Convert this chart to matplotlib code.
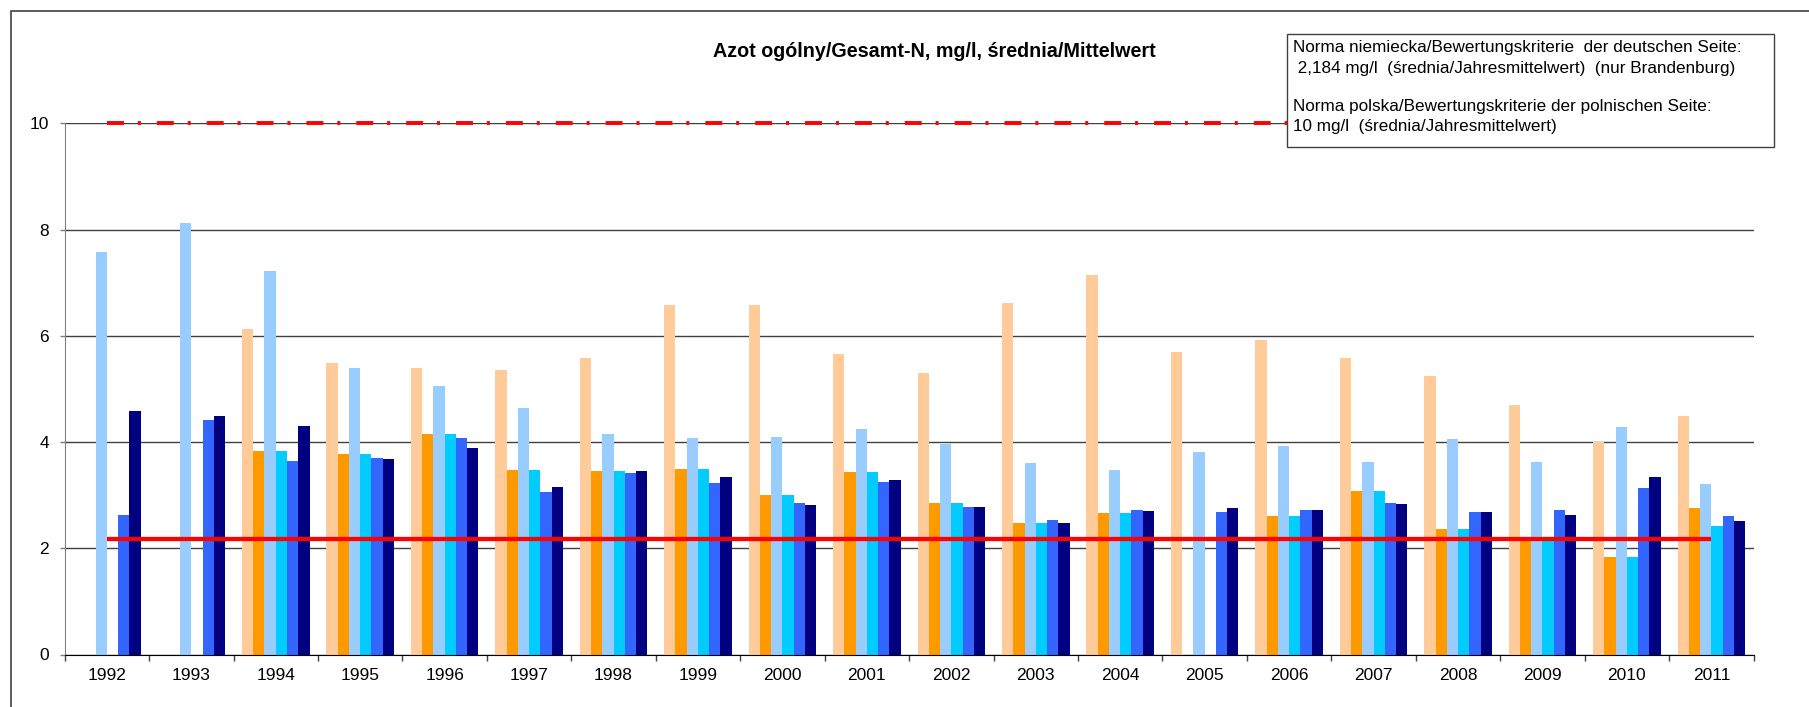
import numpy as np
import matplotlib
matplotlib.use("Agg")
import matplotlib.pyplot as plt
from matplotlib.patches import Rectangle

plt.rcParams['font.family'] = ['Liberation Sans', 'DejaVu Sans']
plt.rcParams['lines.scale_dashes'] = False

nan = np.nan

# lata / Jahre
years = [str(y) for y in range(1992, 2012)]

# serie pomiarowe (kolejnosc jak w slupkach)
s_light_orange = [nan, nan, 6.13, 5.48, 5.40, 5.36, 5.58, 6.58, 6.58, 5.66,
                  5.30, 6.62, 7.14, 5.70, 5.92, 5.58, 5.25, 4.70, 4.01, 4.50]
s_orange = [nan, nan, 3.84, 3.78, 4.15, 3.47, 3.45, 3.49, 3.00, 3.43,
            2.85, 2.47, 2.67, nan, 2.61, 3.07, 2.36, 2.20, 1.83, 2.75]
s_light_blue = [7.57, 8.13, 7.23, 5.40, 5.06, 4.65, 4.16, 4.08, 4.10, 4.24,
                3.97, 3.61, 3.47, 3.82, 3.93, 3.62, 4.05, 3.62, 4.29, 3.21]
s_cyan = [nan, nan, 3.84, 3.78, 4.15, 3.47, 3.45, 3.49, 3.00, 3.43,
          2.85, 2.47, 2.67, nan, 2.61, 3.07, 2.36, 2.20, 1.83, 2.42]
s_blue = [2.62, 4.41, 3.65, 3.70, 4.07, 3.06, 3.41, 3.23, 2.86, 3.24,
          2.77, 2.54, 2.72, 2.68, 2.72, 2.86, 2.69, 2.73, 3.13, 2.60]
s_navy = [4.59, 4.50, 4.31, 3.69, 3.88, 3.16, 3.45, 3.34, 2.81, 3.29,
          2.78, 2.47, 2.71, 2.75, 2.72, 2.84, 2.68, 2.62, 3.34, 2.51]

# normy
norm_de = 2.184
norm_pl = 10

title = "Azot ogólny/Gesamt-N, mg/l, średnia/Mittelwert"
box_lines = [
    "Norma niemiecka/Bewertungskriterie  der deutschen Seite:",
    " 2,184 mg/l  (średnia/Jahresmittelwert)  (nur Brandenburg)",
    "Norma polska/Bewertungskriterie der polnischen Seite:",
    "10 mg/l  (średnia/Jahresmittelwert)",
]

W, H = 1809, 707
fig = plt.figure(figsize=(W / 100, H / 100), dpi=100)


def fx(px):
    return px / W


def fy(py):
    return 1 - py / H


ax = fig.add_axes([fx(64.6), fy(654.5), fx(1753.6) - fx(64.6), fy(123.4) - fy(654.5)])

series = [s_light_orange, s_orange, s_light_blue, s_cyan, s_blue, s_navy]
colors = ['#FFCC99', '#FF9900', '#99CCFF', '#00CCFF', '#3366FF', '#000080']

x = np.arange(len(years))
w = 0.8 / len(series)
for j, (vals, c) in enumerate(zip(series, colors)):
    ax.bar(x + (j - 2.5) * w, vals, width=w, color=c, zorder=2)

# linie norm
ax.plot(x, [norm_de] * len(x), color='#FF0000', lw=3.1, zorder=3,
        solid_capstyle='butt')
ax.plot(x, [norm_pl] * len(x), color='#FF0000', lw=2.8, zorder=3,
        dashes=(12.2, 10, 2.2, 11.5), dash_capstyle='butt', clip_on=False)

ax.set_xlim(-0.5, len(years) - 0.5)
ax.set_ylim(0, 10)
ax.set_yticks([0, 2, 4, 6, 8, 10])
ax.yaxis.grid(True, color='#404040', lw=1.0, zorder=1)
ax.set_axisbelow(True)

# ticki x na granicach kategorii
ax.set_xticks(np.arange(len(years) + 1) - 0.5)
ax.set_xticklabels([])
ax.set_xticks(x, minor=True)
ax.set_xticklabels(years, minor=True)
ax.tick_params(axis='x', which='major', direction='out', length=4.3,
               width=1, color='#404040')
ax.tick_params(axis='x', which='minor', length=0, pad=9.5, labelsize=12.5)
ax.tick_params(axis='y', direction='out', length=3.6, width=1,
               color='#808080', pad=7.5, labelsize=12.5)

for s in ['top', 'right']:
    ax.spines[s].set_visible(False)
ax.spines['left'].set_color('#808080')
ax.spines['bottom'].set_color('#000000')

fig.text(fx(934.5), fy(51.7), title, ha='center', va='center',
         fontsize=14.2, fontweight='bold')

# ramka z opisem norm
box = Rectangle((fx(1287), fy(147)), fx(1774) - fx(1287), fy(34.3) - fy(147),
                transform=fig.transFigure, facecolor='white', edgecolor='#404040',
                lw=1, zorder=10)
fig.add_artist(box)
for line, py in zip(box_lines, [47.5, 68.5, 106, 127]):
    fig.text(fx(1293), fy(py), line, ha='left', va='center', fontsize=12.3,
             zorder=11)

# ramka wykresu
frame = Rectangle((fx(11), -0.05), 1.1, fy(11) + 0.05, transform=fig.transFigure,
                  facecolor='none', edgecolor='#404040', lw=1.2, zorder=12,
                  clip_on=False)
fig.add_artist(frame)

fig.savefig("out.png", dpi=100)
